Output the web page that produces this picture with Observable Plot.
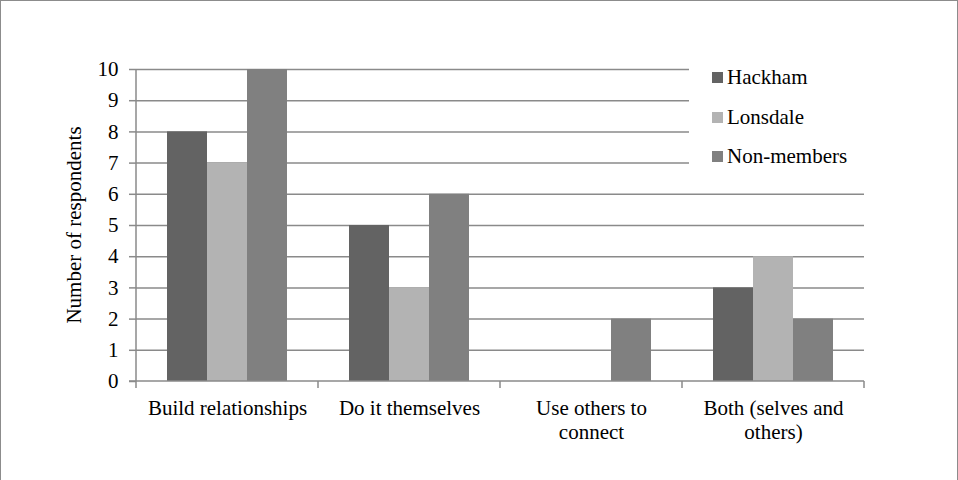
<!DOCTYPE html>
<html>
<head>
<meta charset="utf-8">
<script src="https://cdn.jsdelivr.net/npm/d3@7"></script>
<script src="https://cdn.jsdelivr.net/npm/@observablehq/plot@0.6"></script>
<style>
  html, body { margin: 0; padding: 0; background: #fff; overflow: hidden; }
  #wrap { position: relative; width: 958px; height: 480px; overflow: hidden; font-family: 'Liberation Serif', 'Times New Roman', serif; }
  #border { position: absolute; left: 0; top: 0; width: 958px; height: 490px; box-sizing: border-box; border: 1px solid #8c8c8c; pointer-events: none; }
  #legend { position: absolute; left: 689px; top: 58px; width: 175px; height: 122px; background: #fff; }
  .item { position: absolute; left: 23px; height: 24px; line-height: 24px; font-family: 'Liberation Serif', 'Times New Roman', serif; font-size: 21px; color: #000; white-space: nowrap; }
  .sw { display: inline-block; width: 11px; height: 11px; margin-right: 4px; vertical-align: 1px; }
</style>
</head>
<body>
<div id="wrap"><div id="border"></div></div>
<script>
// Responses by group
const categories = ["Build relationships", "Do it themselves", "Use others to connect", "Both (selves and others)"];
const tickLabels = ["Build relationships", "Do it themselves", "Use others to\nconnect", "Both (selves and\nothers)"];
const series = ["Hackham", "Lonsdale", "Non-members"];
const hackham = [8, 5, 0, 3];
const lonsdale = [7, 3, 0, 4];
const nonMembers = [10, 6, 2, 2];
const colors = ["#636363", "#b3b3b3", "#808080"];
const yTicks = [0, 1, 2, 3, 4, 5, 6, 7, 8, 9, 10];

const valuesBySeries = [hackham, lonsdale, nonMembers];
const rows = [];
series.forEach((s, j) => categories.forEach((c, i) => rows.push({category: c, series: s, value: valuesBySeries[j][i]})));

const axisColor = "#8a8a8a";
const serif = "'Liberation Serif', 'Times New Roman', serif";

const plot = Plot.plot({
  width: 958,
  height: 480,
  marginLeft: 135,
  marginRight: 94,
  marginTop: 69,
  marginBottom: 99,
  style: {fontFamily: serif, fontSize: "21px", color: "#000", background: "transparent"},
  fx: {domain: categories, padding: 0, label: null, axis: null},
  x: {domain: series, paddingInner: 0, paddingOuter: 0.775, axis: null},
  y: {domain: [0, 10], label: null},
  color: {domain: series, range: colors},
  marks: [
    Plot.ruleY(yTicks.slice(1), {stroke: axisColor, strokeWidth: 1.5}),
    Plot.barY(rows, {fx: "category", x: "series", y: "value", fill: "series", inset: 0}),
    Plot.axisY({ticks: yTicks, tickSize: 7, tickPadding: 11, stroke: axisColor, strokeWidth: 1.5, strokeOpacity: 1, label: null, fill: "#000", fontFamily: serif, fontSize: 21}),
    Plot.axisFx({anchor: "bottom", tickSize: 0, tickPadding: 16, tickFormat: (d) => tickLabels[categories.indexOf(d)], lineHeight: 1.15, label: null, fill: "#000", fontFamily: serif, fontSize: 21})
  ]
});

// Axis lines and category boundary ticks, positioned by the plot's scales
const fx = plot.scale("fx");
const y = plot.scale("y");
const svg = d3.select(plot);
const y0 = y.apply(0), y10 = y.apply(10);
const xs = categories.map((c) => fx.apply(c));
const xEnd = xs[xs.length - 1] + fx.bandwidth;
const g = svg.append("g").attr("stroke", axisColor).attr("stroke-width", 1.5);
g.append("line").attr("x1", xs[0]).attr("x2", xs[0]).attr("y1", y10).attr("y2", y0);
g.append("line").attr("x1", xs[0] - 7).attr("x2", xEnd).attr("y1", y0).attr("y2", y0);
[...xs, xEnd].forEach((x) => g.append("line").attr("x1", x).attr("x2", x).attr("y1", y0).attr("y2", y0 + 7));

const wrap = document.getElementById("wrap");
wrap.insertBefore(plot, wrap.firstChild);
plot.style.position = "absolute";
plot.style.left = "0px";
plot.style.top = "0px";

// Legend
const legend = document.createElement("div");
legend.id = "legend";
series.forEach((s, i) => {
  const item = document.createElement("div");
  item.className = "item";
  item.style.top = (7 + i * 39.5) + "px";
  const sw = document.createElement("span");
  sw.className = "sw";
  sw.style.background = colors[i];
  item.appendChild(sw);
  item.appendChild(document.createTextNode(s));
  legend.appendChild(item);
});
wrap.insertBefore(legend, document.getElementById("border"));

// Y axis title
const title = document.createElement("div");
title.textContent = "Number of respondents";
Object.assign(title.style, {
  position: "absolute", left: "74px", top: "225px", fontSize: "21px", whiteSpace: "nowrap",
  fontFamily: serif, transform: "translate(-50%, -50%) rotate(-90deg)", color: "#000"
});
wrap.insertBefore(title, document.getElementById("border"));
</script>
</body>
</html>
